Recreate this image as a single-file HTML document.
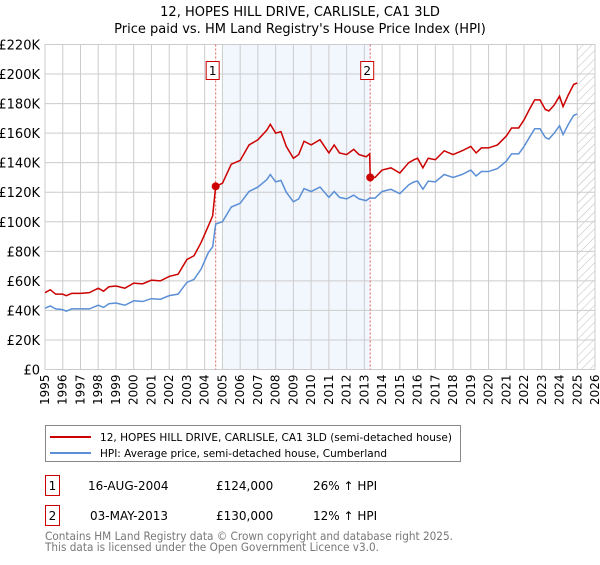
<!DOCTYPE html>
<html><head><meta charset="utf-8"><style>
body{margin:0;background:#fff;font-family:"Liberation Sans","DejaVu Sans",sans-serif;}
svg text{font-family:"DejaVu Sans","Liberation Sans",sans-serif;}
</style></head><body>
<svg id="chart" width="600" height="560" xmlns="http://www.w3.org/2000/svg">
<defs><pattern id="hatch" width="6" height="6" patternUnits="userSpaceOnUse" patternTransform="rotate(45)"><line x1="0" y1="0" x2="0" y2="6" stroke="#bbb" stroke-width="1"/></pattern></defs>
<text x="300" y="16" text-anchor="middle" font-size="13">12, HOPES HILL DRIVE, CARLISLE, CA1 3LD</text>
<text x="300" y="33" text-anchor="middle" font-size="13">Price paid vs. HM Land Registry's House Price Index (HPI)</text>
<g id="plot"></g>
<g>
<rect x="45.5" y="425.5" width="415" height="36" fill="#fff" stroke="#888"/>
<line x1="50" y1="437" x2="91" y2="437" stroke="#cc0000" stroke-width="2"/>
<text x="100" y="441" font-size="11" textLength="352" lengthAdjust="spacingAndGlyphs">12, HOPES HILL DRIVE, CARLISLE, CA1 3LD (semi-detached house)</text>
<line x1="50" y1="453" x2="91" y2="453" stroke="#5b8fd6" stroke-width="2"/>
<text x="100" y="457" font-size="11" textLength="287" lengthAdjust="spacingAndGlyphs">HPI: Average price, semi-detached house, Cumberland</text>
</g>
<g font-size="12">
<rect x="45.5" y="475.5" width="14" height="20" fill="#fff" stroke="#cc0000"/>
<text x="52.5" y="490" text-anchor="middle">1</text>
<text x="88" y="490">16-AUG-2004</text>
<text x="216" y="490">£124,000</text>
<text x="313" y="490">26% ↑ HPI</text>
<rect x="45.5" y="505.5" width="14" height="20" fill="#fff" stroke="#cc0000"/>
<text x="52.5" y="520" text-anchor="middle">2</text>
<text x="90" y="520">03-MAY-2013</text>
<text x="216" y="520">£130,000</text>
<text x="313" y="520">12% ↑ HPI</text>
</g>
<text x="45" y="540" font-size="11.5" fill="#777" textLength="408" lengthAdjust="spacingAndGlyphs">Contains HM Land Registry data © Crown copyright and database right 2025.</text>
<text x="45" y="551" font-size="11.5" fill="#777" textLength="334" lengthAdjust="spacingAndGlyphs">This data is licensed under the Open Government Licence v3.0.</text>
</svg>
<script>
const years=[1995.0,1995.3,1995.6,1996.0,1996.2,1996.5,1997.0,1997.5,1998.0,1998.3,1998.6,1999.0,1999.5,2000.0,2000.5,2001.0,2001.5,2002.0,2002.5,2003.0,2003.4,2003.8,2004.2,2004.45,2004.62,2005.0,2005.5,2006.0,2006.5,2007.0,2007.5,2007.7,2008.0,2008.3,2008.6,2009.0,2009.3,2009.6,2010.0,2010.5,2011.0,2011.3,2011.6,2012.0,2012.4,2012.7,2013.1,2013.3,2013.33,2013.6,2014.0,2014.5,2015.0,2015.5,2015.8,2016.0,2016.3,2016.6,2017.0,2017.5,2018.0,2018.5,2019.0,2019.3,2019.6,2020.0,2020.5,2021.0,2021.3,2021.7,2022.0,2022.3,2022.6,2022.9,2023.2,2023.4,2023.7,2024.0,2024.2,2024.5,2024.8,2025.0];
const priceSeries=[52,54,51,51,50,51.5,51.5,52,55,53,56,56.5,55,58.5,58,60.5,60,63,64.5,74.5,77,86,97,104,124,126,139,141.5,152,155.5,162,166,160,161,151,143,145.5,154.5,152,155.5,146.6,152,146.6,145.5,149,145.5,144,146,130,130,135,136.5,133,140,142,143,136.5,143,142,148,145.5,148,151,146.6,150,150,152,158,163.5,163.5,169,176,182.5,182.5,176,175,179,185,178,186,193,194];
const hpiSeries=[41.5,43,41,40.5,39.5,41,41,41,43.5,42,44.5,45,43.5,46.5,46,48,47.5,50,51,59,61,68,79,83,98.5,100,110,112.5,120.5,123.5,128.5,132,127,128,120,113.5,115.5,122.5,120.5,123.5,116.5,120.5,116.5,115.5,118,115.5,114.3,116,116,116,120.5,122,119,125,127,127.5,122,127.5,127,132,130,132,135,131,134,134,136,141,146,146,151,157,163,163,157,156,160,165,159,166,172,173];
const yTicks=[0,20,40,60,80,100,120,140,160,180,200,220];
const xTicks=[1995,1996,1997,1998,1999,2000,2001,2002,2003,2004,2005,2006,2007,2008,2009,2010,2011,2012,2013,2014,2015,2016,2017,2018,2019,2020,2021,2022,2023,2024,2025,2026];
const saleYears=[2004.62,2013.33];
const salePrices=[124,130];
const saleLabels=["1","2"];
const NS="http://www.w3.org/2000/svg";
const L=45,R=595,T=44.5,B=369.5;
const x=v=>L+(v-1995)/(2026-1995)*(R-L);
const y=v=>B-v/220*(B-T);
const g=document.getElementById('plot');
function mk(t,a){const e=document.createElementNS(NS,t);for(const k in a)e.setAttribute(k,a[k]);g.appendChild(e);return e;}
const shade=mk('rect',{x:x(2005),y:T,width:x(2013.33)-x(2005),height:B-T,fill:'#f2f6fd'});


const hat=mk('rect',{x:x(2025),y:T,width:R-x(2025),height:B-T,fill:'url(#hatch)'});


xTicks.forEach(t=>{
 const l=mk('line',{x1:x(t),x2:x(t),y1:T,y2:B,stroke:'#cccccc','stroke-width':1});
 
 
 const tx=mk('text',{x:0,y:0,'font-size':12,'text-anchor':'end',transform:`translate(${x(t)+4},${B+5}) rotate(-90)`});
 tx.textContent=t;
 
 
});
yTicks.forEach(t=>{
 const l=mk('line',{x1:L,x2:R,y1:y(t),y2:y(t),stroke:'#cccccc','stroke-width':1});
 
 
 const tx=mk('text',{x:40,y:y(t)+5,'font-size':13,'text-anchor':'end'});
 tx.textContent=t===0?'£0':'£'+t+'K';
 
 
});
saleYears.forEach((s,i)=>{
 const l=mk('line',{x1:x(s),x2:x(s),y1:T,y2:B,stroke:'#e06060','stroke-width':1,'stroke-dasharray':'2,2'});
 
 
 const bx=mk('rect',{x:x(s)-9.5,y:61.5,width:13,height:18,fill:'#fff',stroke:'#cc0000'});
 
 
 const tx=mk('text',{x:x(s)-3,y:75,'font-size':12,'text-anchor':'middle'});
 tx.textContent=saleLabels[i];
 
 
});
const hp=mk('polyline',{points:years.map((v,i)=>x(v)+','+y(hpiSeries[i])).join(' '),fill:'none',stroke:'#5b8fd6','stroke-width':1.5});


const pp=mk('polyline',{points:years.map((v,i)=>x(v)+','+y(priceSeries[i])).join(' '),fill:'none',stroke:'#cc0000','stroke-width':1.5});


saleYears.forEach((s,i)=>{
 const c=mk('circle',{cx:x(s),cy:y(salePrices[i]),r:4,fill:'#cc0000'});
 
 
});
</script>
</body></html>
